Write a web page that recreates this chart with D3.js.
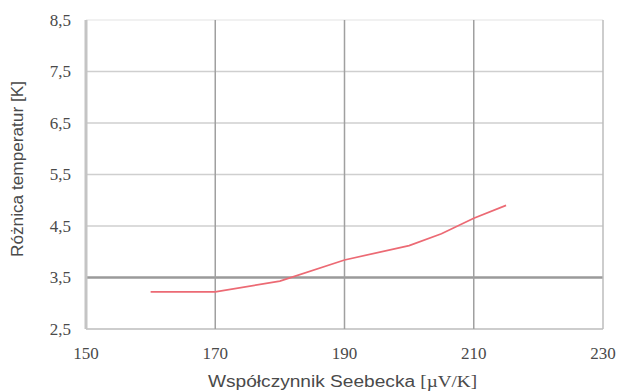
<!DOCTYPE html>
<html><head><meta charset="utf-8">
<script src="https://cdn.jsdelivr.net/npm/d3@7"></script>
<style>body{margin:0;background:#fff}</style>
</head><body>
<svg id="c" width="621" height="391"></svg>
<script>
const xValues = [160, 170, 180, 190, 200, 205, 210, 215];
const yValues = [3.22, 3.22, 3.43, 3.84, 4.12, 4.35, 4.65, 4.9];
const xTicks = [150, 170, 190, 210, 230];
const yTicks = [2.5, 3.5, 4.5, 5.5, 6.5, 7.5, 8.5];
const xTitleMain = "Współczynnik Seebecka ";
const xTitleUnit = "[µV/K]";
const yTitle = "Różnica temperatur [K]";

const SERIF = "'Liberation Serif','DejaVu Serif','Times New Roman',serif";
const SANS = "'Liberation Sans',Arial,sans-serif";

const svg = d3.select("#c");
const x = d3.scaleLinear().domain([150, 230]).range([86, 603]);
const y = d3.scaleLinear().domain([2.5, 8.5]).range([329, 20]);
const fmt = d => String(d).replace(".", ",");

// horizontal grid
svg.append("g").selectAll("line").data(yTicks).join("line")
  .attr("x1", x(150)).attr("x2", x(230))
  .attr("y1", d => y(d)).attr("y2", d => y(d))
  .attr("stroke", d => d === 3.5 ? "#9a9a9a" : d === 8.5 ? "#ececec" : d === 2.5 ? "#bdbdbd" : "#cfcfcf")
  .attr("stroke-width", d => d === 3.5 ? 2.5 : 1.5);
// vertical grid
svg.append("g").selectAll("line").data(xTicks.slice(1)).join("line")
  .attr("x1", d => x(d)).attr("x2", d => x(d))
  .attr("y1", y(8.5)).attr("y2", y(2.5))
  .attr("stroke", d => d === 230 ? "#bdbdbd" : "#a0a0a0")
  .attr("stroke-width", 1.5);
// left axis
svg.append("line").attr("x1", x(150)).attr("x2", x(150))
  .attr("y1", y(8.5)).attr("y2", y(2.5))
  .attr("stroke", "#c4c4c4").attr("stroke-width", 3);

// tick labels
svg.append("g").selectAll("text").data(yTicks).join("text")
  .attr("x", 71).attr("y", d => y(d)).attr("dy", "0.35em")
  .attr("text-anchor", "end")
  .attr("font-family", SERIF).attr("font-size", 17)
  .attr("fill", "#4a4a4a").text(fmt);
svg.append("g").selectAll("text").data(xTicks).join("text")
  .attr("x", d => x(d)).attr("y", 353).attr("dy", "0.35em")
  .attr("text-anchor", "middle")
  .attr("font-family", SERIF).attr("font-size", 17)
  .attr("fill", "#4a4a4a").text(d => d);

// titles
const xt = svg.append("text").attr("x", 208).attr("y", 387)
  .attr("font-family", SANS).attr("font-size", 16)
  .attr("fill", "#4a4a4a")
  .attr("textLength", 269).attr("lengthAdjust", "spacingAndGlyphs");
xt.append("tspan").text(xTitleMain);
xt.append("tspan").attr("font-family", SERIF).text(xTitleUnit);

svg.append("text").attr("transform", "translate(17,169) rotate(-90)")
  .attr("text-anchor", "middle").attr("dy", "0.35em")
  .attr("font-family", SANS).attr("font-size", 16)
  .attr("fill", "#4a4a4a")
  .attr("textLength", 176).attr("lengthAdjust", "spacingAndGlyphs")
  .text(yTitle);

// line
const data = xValues.map((v, i) => [v, yValues[i]]);
svg.append("path").datum(data)
  .attr("fill", "none").attr("stroke", "#ec6a74").attr("stroke-width", 1.7)
  .attr("d", d3.line().x(d => x(d[0])).y(d => y(d[1])));
</script>
</body></html>
